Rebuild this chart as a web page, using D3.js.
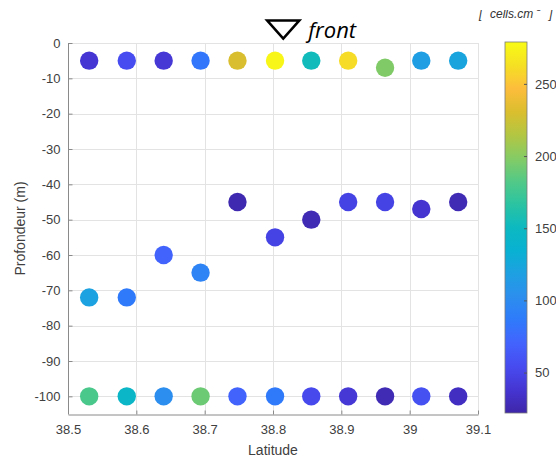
<!DOCTYPE html>
<html>
<head>
<meta charset="utf-8">
<script src="https://cdn.jsdelivr.net/npm/d3@7"></script>
<style>
  html, body { margin: 0; padding: 0; background: #fff; }
  svg { display: block; font-family: "Liberation Sans", Arial, sans-serif; }
</style>
</head>
<body>
<svg id="chart" width="556" height="458"></svg>
<script>
// Station latitudes along the transect
const latitudes = [38.531, 38.586, 38.640, 38.694, 38.748, 38.803, 38.856, 38.910, 38.964, 39.017, 39.071];

// Sampling depths (m) for the three levels
const surfaceDepth = [-5, -5, -5, -5, -5, -5, -5, -5, -7, -5, -5];
const middleDepth  = [-72, -72, -60, -65, -45, -55, -50, -45, -45, -47, -45];
const bottomDepth  = [-100, -100, -100, -100, -100, -100, -100, -100, -100, -100, -100];

// Cell abundance (cells.cm^-3) at each level
const surfaceCells = [39, 55, 40, 84, 230, 276, 153, 261, 197, 117, 122];
const middleCells  = [120, 86, 71, 94, 25, 48, 27, 48, 48, 37, 27];
const bottomCells  = [179, 145, 102, 191, 71, 86, 53, 40, 27, 58, 32];

// Axis ticks
const xTicks = [38.5, 38.6, 38.7, 38.8, 38.9, 39.0, 39.1];
const xTickLabels = ["38.5", "38.6", "38.7", "38.8", "38.9", "39", "39.1"];
const yTicks = [0, -10, -20, -30, -40, -50, -60, -70, -80, -90, -100];
const colorTicks = [50, 100, 150, 200, 250];
const colorDomain = [22, 279];

// Front position
const frontLatitude = 38.815;

// Parula-style colormap anchors
const parulaAnchors = ["#3e26a8", "#4535d2", "#474bef", "#4363fd", "#2f7afb", "#2c8eee",
  "#1ea0e2", "#08b1d2", "#0cb9c0", "#2bc3a2", "#53c986", "#85cb64", "#b3c642",
  "#dbbe2e", "#fdbd3c", "#f5e023", "#f9fb15"];
const parula = d3.piecewise(d3.interpolateRgb, parulaAnchors);

const svg = d3.select("#chart");
const plot = { left: 68, right: 478, top: 43, bottom: 414 };

const x = d3.scaleLinear().domain([38.5, 39.1]).range([plot.left, plot.right]);
const y = d3.scaleLinear().domain([-105, 0]).range([plot.bottom, plot.top]);
const color = d3.scaleSequential(parula).domain(colorDomain).clamp(true);

const axisColor = "#404040";

// Grid
const grid = svg.append("g").attr("stroke", "#e3e3e3").attr("stroke-width", 1);
grid.selectAll("line.gx").data(xTicks).join("line")
  .attr("x1", d => Math.round(x(d)) + 0.5).attr("x2", d => Math.round(x(d)) + 0.5)
  .attr("y1", plot.top).attr("y2", plot.bottom);
grid.selectAll("line.gy").data(yTicks).join("line")
  .attr("x1", plot.left).attr("x2", plot.right)
  .attr("y1", d => Math.round(y(d)) + 0.5).attr("y2", d => Math.round(y(d)) + 0.5);

// Axes (ticks pointing inward)
const xAxis = d3.axisBottom(x).tickValues(xTicks)
  .tickFormat((d, i) => xTickLabels[i]).tickSizeInner(-4).tickSizeOuter(0).tickPadding(10);
const gx = svg.append("g").attr("transform", `translate(0,${plot.bottom + 0.5})`).call(xAxis);

const yAxis = d3.axisLeft(y).tickValues(yTicks).tickFormat(d => String(d))
  .tickSizeInner(-4).tickSizeOuter(0).tickPadding(8);
const gy = svg.append("g").attr("transform", `translate(${plot.left + 0.5},0)`).call(yAxis);

[gx, gy].forEach(g => {
  g.select(".domain").attr("stroke", "#8a8a8a");
  g.selectAll(".tick line").attr("stroke", "#8a8a8a");
  g.selectAll(".tick text").attr("fill", axisColor).attr("font-size", 13)
    .attr("font-family", "Liberation Sans, Arial, sans-serif");
});
// extend left axis to top of plot
gy.select(".domain").attr("d", `M0,${plot.top}V${plot.bottom}`);

// Axis titles
svg.append("text").attr("x", (plot.left + plot.right) / 2).attr("y", 455)
  .attr("text-anchor", "middle").attr("font-size", 14).attr("fill", axisColor)
  .text("Latitude");
svg.append("text")
  .attr("transform", `translate(25,${(y(0) + y(-105)) / 2}) rotate(-90)`)
  .attr("text-anchor", "middle").attr("font-size", 14).attr("fill", axisColor)
  .text("Profondeur (m)");

// Sample points
const levels = [
  { depth: surfaceDepth, cells: surfaceCells },
  { depth: middleDepth, cells: middleCells },
  { depth: bottomDepth, cells: bottomCells }
];
const points = levels.flatMap(l => latitudes.map((lat, i) => ({ lat, depth: l.depth[i], cells: l.cells[i] })));
svg.append("g").selectAll("circle").data(points).join("circle")
  .attr("cx", d => x(d.lat)).attr("cy", d => y(d.depth)).attr("r", 9.2)
  .attr("fill", d => color(d.cells));

// Front marker
const fx = x(frontLatitude);
svg.append("path")
  .attr("d", `M${fx - 16},20.5 L${fx + 16},20.5 L${fx},38.5 Z`)
  .attr("fill", "none").attr("stroke", "#000").attr("stroke-width", 2.6)
  .attr("stroke-linejoin", "miter");
svg.append("text").attr("x", fx + 25).attr("y", 38)
  .attr("font-family", "Open Sans, Noto Sans, sans-serif").attr("font-style", "italic")
  .attr("font-size", 22).attr("fill", "#000").text("front");

// Colorbar
const cb = { x: 505, width: 22, top: 42, bottom: 413 };
const cy = d3.scaleLinear().domain(colorDomain).range([cb.bottom, cb.top]);
const defs = svg.append("defs");
const grad = defs.append("linearGradient").attr("id", "cbgrad")
  .attr("x1", 0).attr("y1", 1).attr("x2", 0).attr("y2", 0);
d3.range(0, 1.0001, 1 / 64).forEach(t => {
  grad.append("stop").attr("offset", t).attr("stop-color", parula(t));
});
svg.append("rect").attr("x", cb.x).attr("y", cb.top).attr("width", cb.width)
  .attr("height", cb.bottom - cb.top).attr("fill", "url(#cbgrad)")
  .attr("stroke", "#7a7a7a").attr("stroke-width", 0.8);
const cAxis = d3.axisRight(cy).tickValues(colorTicks).tickSizeInner(-3).tickSizeOuter(0).tickPadding(8);
const gc = svg.append("g").attr("transform", `translate(${cb.x + cb.width},0)`).call(cAxis);
gc.select(".domain").remove();
gc.selectAll(".tick line").attr("stroke", "#555");
gc.selectAll(".tick text").attr("fill", axisColor).attr("font-size", 13)
  .attr("font-family", "Liberation Sans, Arial, sans-serif");

// Colorbar units (top edge of the label is clipped)
defs.append("clipPath").attr("id", "unitsclip")
  .append("rect").attr("x", 440).attr("y", 10).attr("width", 116).attr("height", 20);
const units = svg.append("g").attr("clip-path", "url(#unitsclip)")
  .append("text").attr("y", 18)
  .attr("font-size", 12).attr("fill", "#333").attr("font-style", "italic");
units.append("tspan").attr("x", 479).text("[");
units.append("tspan").attr("x", 490).text("cells.cm");
units.append("tspan").attr("font-size", 9).attr("dy", -7).text("-3");
units.append("tspan").attr("x", 549).attr("dy", 7).text("]");
</script>
</body>
</html>
